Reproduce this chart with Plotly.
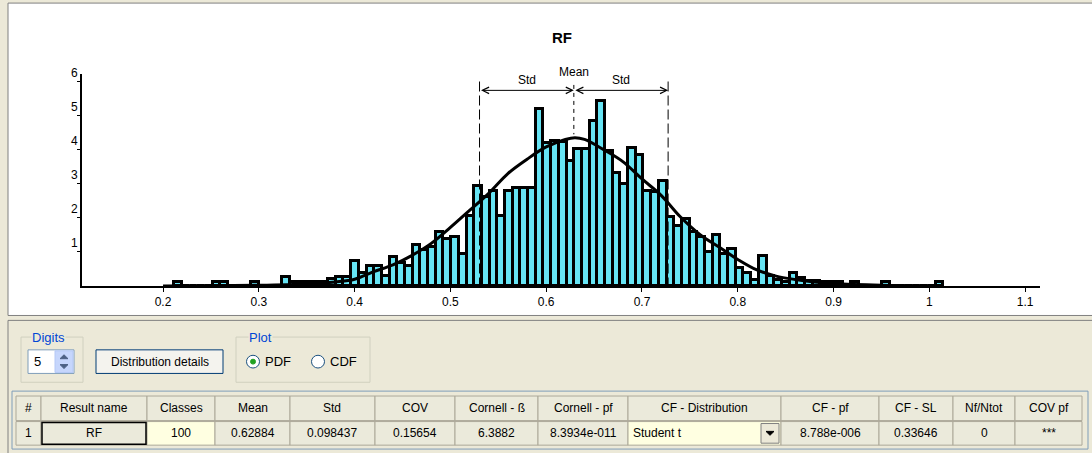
import plotly.graph_objects as go

W, H = 1092, 453

# ---------------- data ----------------
bin_start = 0.2117
bin_width = 0.00803
density = [
    0.12, 0, 0, 0, 0, 0.12, 0.12, 0, 0, 0,
    0.12, 0, 0, 0, 0.25, 0.12, 0.12, 0.12, 0.12, 0.12,
    0.20, 0.25, 0.25, 0.72, 0.38, 0.58, 0.58, 0.30, 0.85, 0.67,
    0.58, 1.20, 1.07, 1.15, 1.58, 1.39, 1.45, 0.93, 2.06, 2.93,
    2.60, 2.80, 2.06, 2.80, 2.88, 2.88, 2.88, 5.19, 4.20, 4.25,
    4.22, 3.66, 4.03, 4.03, 4.85, 5.43, 3.97, 3.31, 2.98, 4.05,
    3.83, 2.80, 2.77, 3.09, 2.02, 1.75, 1.97, 1.58, 1.45, 1.00,
    1.49, 0.93, 1.10, 0.53, 0.38, 0.19, 0.88, 0.29, 0.18, 0.12,
    0.38, 0.24, 0.14, 0.14, 0.12, 0.12, 0.12, 0, 0.12, 0,
    0, 0, 0.12, 0, 0, 0, 0, 0, 0, 0.12,
]
curve_x = [0.20, 0.25, 0.30, 0.35, 0.38, 0.40, 0.42, 0.44, 0.46, 0.48, 0.50,
           0.52, 0.54, 0.56, 0.58, 0.60, 0.62, 0.63, 0.64, 0.66, 0.68, 0.70,
           0.72, 0.74, 0.76, 0.78, 0.80, 0.82, 0.84, 0.86, 0.88, 0.90, 0.95, 1.0]
curve_y = [0.0, 0.005, 0.02, 0.06, 0.12, 0.20, 0.42, 0.62, 0.90, 1.25, 1.72,
           2.22, 2.72, 3.30, 3.72, 4.08, 4.30, 4.35, 4.30, 4.00, 3.65, 3.14,
           2.66, 2.03, 1.52, 1.15, 0.78, 0.47, 0.29, 0.19, 0.12, 0.07, 0.02, 0.005]
mean_val = 0.62884
std_val = 0.098437
x_tick_vals = [0.2, 0.3, 0.4, 0.5, 0.6, 0.7, 0.8, 0.9, 1.0, 1.1]
x_tick_text = ["0.2", "0.3", "0.4", "0.5", "0.6", "0.7", "0.8", "0.9", "1", "1.1"]
y_tick_vals = [1, 2, 3, 4, 5, 6]
y_tick_text = ["1", "2", "3", "4", "5", "6"]
table_headers = ["#", "Result name", "Classes", "Mean", "Std", "COV", "Cornell - \u00df",
                 "Cornell - pf", "CF - Distribution", "CF - pf", "CF - SL", "Nf/Ntot", "COV pf"]
table_values = ["1", "RF", "100", "0.62884", "0.098437", "0.15654", "6.3882",
                "8.3934e-011", "Student t", "8.788e-006", "0.33646", "0", "***"]
digits_value = "5"
plot_options = ["PDF", "CDF"]

# ---------------- layout helpers ----------------
col_edges = [16, 41, 147, 215, 290, 375, 455, 538, 628, 781, 879, 953, 1015, 1082]
PANEL = "#ECE9D8"
FONT = "Liberation Sans"


def PX(x):
    return x / W


def PY(y):
    return 1 - y / H


def label(x, y, text, size=12, color="black", xanchor="center", **kw):
    d = dict(x=PX(x), y=PY(y), xref="paper", yref="paper", text=text, showarrow=False,
             xanchor=xanchor, yanchor="middle", font=dict(family=FONT, size=size, color=color))
    d.update(kw)
    return d


centers = [bin_start + (i + 0.5) * bin_width for i in range(len(density))]

fig = go.Figure()
fig.add_trace(go.Bar(
    x=centers, y=density, width=bin_width,
    marker=dict(color="#66E4F4", line=dict(color="black", width=3)),
    hoverinfo="skip", showlegend=False,
))
fig.add_trace(go.Scatter(
    x=curve_x, y=curve_y, mode="lines", line=dict(color="black", width=3, shape="spline"),
    hoverinfo="skip", showlegend=False,
))

shapes = []
annotations = []

# chart frame and panel
shapes.append(dict(type="rect", xref="paper", yref="paper", x0=PX(8), x1=PX(1100), y0=PY(313), y1=PY(-5),
                   fillcolor="white", line=dict(color="#808080", width=1), layer="below"))
shapes.append(dict(type="rect", xref="paper", yref="paper", x0=PX(8), x1=PX(1100), y0=PY(460), y1=PY(318),
                   fillcolor=PANEL, line=dict(color="#808080", width=1), layer="below"))

# std / mean lines (drawn top-down so the dash pattern starts at the top)
top_std = 6.0
arrow_y = 5.74
for xv in (mean_val - std_val, mean_val + std_val):
    shapes.append(dict(type="line", xref="x", yref="y", x0=xv, x1=xv, y0=top_std, y1=0,
                       line=dict(color="black", width=1, dash="10px,4px"), layer="above"))
shapes.append(dict(type="line", xref="x", yref="y", x0=mean_val, x1=mean_val, y0=5.9, y1=4.45,
                   line=dict(color="black", width=1, dash="4px,4px"), layer="above"))
for a, b in ((mean_val - std_val, mean_val), (mean_val, mean_val + std_val)):
    annotations.append(dict(x=b, y=arrow_y, ax=a, ay=arrow_y, xref="x", yref="y", axref="x", ayref="y",
                            showarrow=True, arrowhead=5, startarrowhead=5, arrowside="end+start",
                            arrowsize=1.3, arrowwidth=1, arrowcolor="black", text="",
                            standoff=0, startstandoff=0))
for xv, txt, ys in (((2 * mean_val - std_val) / 2, "Std", 1), ((2 * mean_val + std_val) / 2, "Std", 1),
                    (mean_val, "Mean", 9)):
    annotations.append(dict(x=xv, y=arrow_y, xref="x", yref="y", text=txt, showarrow=False,
                            xanchor="center", yanchor="bottom", yshift=ys,
                            font=dict(family=FONT, size=12, color="black")))

# title
annotations.append(label(562, 30, "<b>RF</b>", size=15))

# ----- bottom panel: Digits group -----
shapes.append(dict(type="rect", xref="paper", yref="paper", x0=PX(21), x1=PX(83), y0=PY(381), y1=PY(335),
                   line=dict(color="#D0D0BF", width=1)))
annotations.append(label(31, 335, "Digits", size=13, color="#0046D5", xanchor="left",
                         bgcolor=PANEL, borderpad=0))
shapes.append(dict(type="rect", xref="paper", yref="paper", x0=PX(28), x1=PX(74), y0=PY(372), y1=PY(348),
                   fillcolor="white", line=dict(color="#7F9DB9", width=1)))
shapes.append(dict(type="rect", xref="paper", yref="paper", x0=PX(55), x1=PX(73), y0=PY(371), y1=PY(349),
                   fillcolor="#C6D6FC", line=dict(color="#B4C8F6", width=1)))
shapes.append(dict(type="path", xref="paper", yref="paper",
                   path=f"M {PX(60)},{PY(357)} L {PX(68)},{PY(357)} L {PX(64)},{PY(353)} Z",
                   fillcolor="#4D6185", line=dict(color="#4D6185", width=1)))
shapes.append(dict(type="path", xref="paper", yref="paper",
                   path=f"M {PX(60)},{PY(363)} L {PX(68)},{PY(363)} L {PX(64)},{PY(367)} Z",
                   fillcolor="#4D6185", line=dict(color="#4D6185", width=1)))
annotations.append(label(32, 360, digits_value, size=13, xanchor="left"))

# Distribution details button
shapes.append(dict(type="rect", xref="paper", yref="paper", x0=PX(96), x1=PX(223), y0=PY(372), y1=PY(348),
                   fillcolor="#F4F3EE", line=dict(color="#003C74", width=1)))
annotations.append(label(159.5, 360, "Distribution details", size=12))

# Plot group
shapes.append(dict(type="rect", xref="paper", yref="paper", x0=PX(236), x1=PX(370), y0=PY(381), y1=PY(335),
                   line=dict(color="#D0D0BF", width=1)))
annotations.append(label(248, 335, "Plot", size=13, color="#0046D5", xanchor="left",
                         bgcolor=PANEL, borderpad=0))
radio_x = [253, 318]
for k, (rx, opt) in enumerate(zip(radio_x, plot_options)):
    shapes.append(dict(type="circle", xref="paper", yref="paper", x0=PX(rx - 6.5), x1=PX(rx + 6.5),
                       y0=PY(360 + 6.5), y1=PY(360 - 6.5), fillcolor="white",
                       line=dict(color="#1C5180", width=1)))
    if k == 0:
        shapes.append(dict(type="circle", xref="paper", yref="paper", x0=PX(rx - 2.5), x1=PX(rx + 2.5),
                           y0=PY(362.5), y1=PY(357.5), fillcolor="#21A121", line=dict(color="#21A121", width=1)))
    annotations.append(label(rx + 10, 360, opt, size=13, xanchor="left"))

# ----- table -----
shapes.append(dict(type="rect", xref="paper", yref="paper", x0=PX(12), x1=PX(1088), y0=PY(449), y1=PY(390),
                   fillcolor=PANEL, line=dict(color="#7F9DB9", width=1)))
hy0, hy1 = 395, 420
dy0, dy1 = 421, 445
for j, (hdr, val) in enumerate(zip(table_headers, table_values)):
    x0, x1 = col_edges[j], col_edges[j + 1]
    shapes.append(dict(type="rect", xref="paper", yref="paper", x0=PX(x0), x1=PX(x1), y0=PY(hy1), y1=PY(hy0),
                       fillcolor="#EBEADB", line=dict(color="#ACA899", width=1)))
    fill = "#FFFFE1" if j in (2, 8) else "#EBEADB"
    shapes.append(dict(type="rect", xref="paper", yref="paper", x0=PX(x0), x1=PX(x1), y0=PY(dy1), y1=PY(dy0),
                       fillcolor=fill, line=dict(color="#ACA899", width=1)))
    annotations.append(label((x0 + x1) / 2, (hy0 + hy1) / 2, hdr))
    if j == 8:
        annotations.append(label(x0 + 3, (dy0 + dy1) / 2, val, xanchor="left"))
    else:
        annotations.append(label((x0 + x1) / 2, (dy0 + dy1) / 2, val))

# selected RF cell border
shapes.append(dict(type="rect", xref="paper", yref="paper", x0=PX(col_edges[1] + 1), x1=PX(col_edges[2] - 1),
                   y0=PY(dy1 - 1), y1=PY(dy0 + 1), line=dict(color="black", width=1.5)))
# dropdown button in distribution cell
bx1 = col_edges[9] - 2
shapes.append(dict(type="rect", xref="paper", yref="paper", x0=PX(bx1 - 18), x1=PX(bx1), y0=PY(dy1 - 2),
                   y1=PY(dy0 + 2), fillcolor="#ECE9D8", line=dict(color="#808080", width=1)))
shapes.append(dict(type="path", xref="paper", yref="paper",
                   path=f"M {PX(bx1 - 13)},{PY(431)} L {PX(bx1 - 5)},{PY(431)} L {PX(bx1 - 9)},{PY(435)} Z",
                   fillcolor="black", line=dict(color="black", width=1)))

fig.update_layout(
    width=W, height=H,
    margin=dict(l=0, r=0, t=0, b=0),
    paper_bgcolor=PANEL,
    plot_bgcolor="rgba(0,0,0,0)",
    bargap=0,
    showlegend=False,
    shapes=shapes,
    annotations=annotations,
    xaxis=dict(domain=[PX(82), PX(1040)], range=[0.1154, 1.1155], showgrid=False, zeroline=False,
               showline=True, linecolor="black", linewidth=2, ticks="outside", ticklen=4,
               tickcolor="black", tickwidth=1, tickvals=x_tick_vals, ticktext=x_tick_text,
               tickfont=dict(family=FONT, size=12, color="black"), fixedrange=True),
    yaxis=dict(domain=[PY(283), PY(67.2)], range=[0, 6.22], showgrid=False, zeroline=False,
               showline=True, linecolor="black", linewidth=2, ticks="outside", ticklen=3,
               tickcolor="black", tickwidth=1, tickvals=y_tick_vals, ticktext=y_tick_text,
               ticklabelposition="outside top", ticklabelstandoff=0,
               tickfont=dict(family=FONT, size=12, color="black"), fixedrange=True),
)

fig.write_html("out.html", config={"displayModeBar": False},
               post_script="document.body.style.margin='0px';document.body.style.overflow='hidden';")
